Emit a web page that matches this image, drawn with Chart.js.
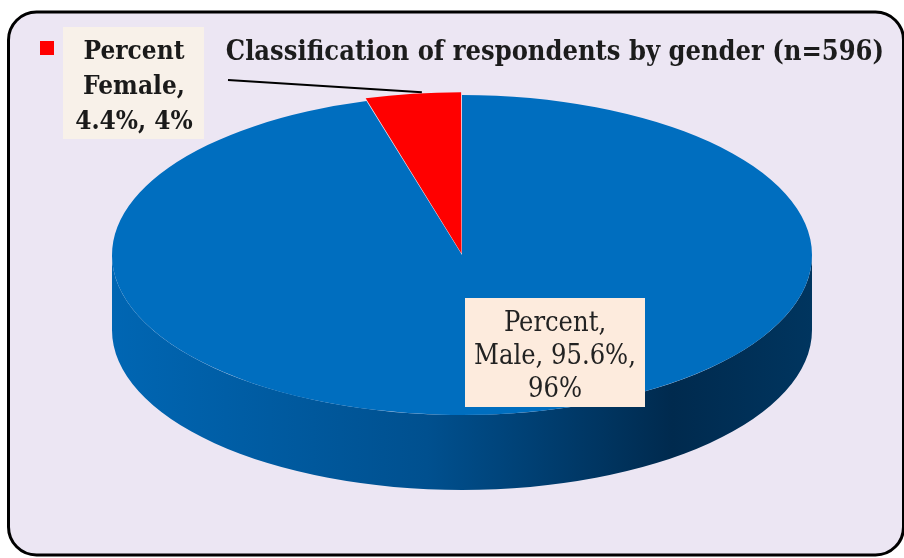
<!DOCTYPE html>
<html>
<head>
<meta charset="utf-8">
<script src="https://cdn.jsdelivr.net/npm/chart.js@4.4.1/dist/chart.umd.min.js"></script>
<style>
  html, body { margin: 0; padding: 0; background: #fff; }
</style>
</head>
<body>
<canvas id="genderChart" width="904" height="558"></canvas>
<script>
const seriesName = 'Percent';
const categories = ['Male', 'Female'];
const percentValues = [95.6, 4.4];
const sliceColors = ['#006EBF', '#FF0000'];
const chartTitle = 'Classification of respondents by gender (n=596)';

// where the flat pie gets squashed to, and how thick the 3d wall is
const pie3d = { cx: 462, cy: 255, rx: 350, ry: 160, depth: 75 };
const serif = "'DejaVu Serif Condensed', 'DejaVu Serif', serif";

function labelLines(i) {
    const v = percentValues[i];
    const pct = Math.round(v / percentValues.reduce((a, b) => a + b, 0) * 100);
    if (categories[i] === 'Female') {
        return [seriesName, categories[i] + ',', v + '%, ' + pct + '%'];
    }
    return [seriesName + ',', categories[i] + ', ' + v + '%,', pct + '%'];
}

function toScreen(chart, px, py) {
    const base = chart.getDatasetMeta(0).data[0];
    const k = base.outerRadius;
    return {
        x: pie3d.cx + (px - base.x) * pie3d.rx / k,
        y: pie3d.cy + (py - base.y) * pie3d.ry / k
    };
}

const framePlugin = {
    id: 'frame',
    beforeDraw(chart) {
        const ctx = chart.ctx;
        ctx.save();
        ctx.beginPath();
        ctx.roundRect(8.5, 12, 895, 543, 28);
        ctx.fillStyle = '#ECE6F3';
        ctx.fill();
        ctx.lineWidth = 3;
        ctx.strokeStyle = '#000';
        ctx.stroke();
        ctx.restore();
    }
};

const tiltPlugin = {
    id: 'tilt',
    beforeDatasetsDraw(chart) {
        const ctx = chart.ctx;
        const base = chart.getDatasetMeta(0).data[0];
        const { cx, cy, rx, ry, depth } = pie3d;

        // side wall of the disc
        ctx.save();
        ctx.beginPath();
        ctx.ellipse(cx, cy, rx, ry, 0, 0, Math.PI, false);
        ctx.lineTo(cx - rx, cy + depth);
        ctx.ellipse(cx, cy + depth, rx, ry, 0, Math.PI, 0, true);
        ctx.closePath();
        const g = ctx.createLinearGradient(cx - rx, 0, cx + rx, 0);
        g.addColorStop(0, '#0066B3');
        g.addColorStop(0.45, '#00508F');
        g.addColorStop(0.8, '#002A4E');
        g.addColorStop(1, '#00355F');
        ctx.fillStyle = g;
        ctx.fill();
        ctx.restore();

        ctx.save();
        ctx.translate(cx, cy);
        ctx.scale(rx / base.outerRadius, ry / base.outerRadius);
        ctx.translate(-base.x, -base.y);
    },
    afterDatasetsDraw(chart) {
        const ctx = chart.ctx;
        ctx.restore();

        const meta = chart.getDatasetMeta(0);
        const fi = categories.indexOf('Female');
        const mi = categories.indexOf('Male');

        // leader line to the female slice
        const arc = meta.data[fi];
        const mid = (arc.startAngle + arc.endAngle) / 2;
        const off = chart.data.datasets[0].offset[fi];
        const r = arc.outerRadius + off;
        const tip = toScreen(chart, arc.x + Math.cos(mid) * r, arc.y + Math.sin(mid) * r);
        ctx.save();
        ctx.beginPath();
        ctx.moveTo(228, 80);
        ctx.lineTo(tip.x + 10, tip.y + 2);
        ctx.lineWidth = 2;
        ctx.strokeStyle = '#000';
        ctx.stroke();

        // legend marker
        ctx.fillStyle = sliceColors[fi];
        ctx.fillRect(40, 41, 14, 14);

        // female label
        ctx.fillStyle = '#F8F1E9';
        ctx.fillRect(63, 27, 141, 112);
        ctx.fillStyle = '#1a1a1a';
        ctx.font = 'bold 26px ' + serif;
        ctx.textAlign = 'center';
        ctx.textBaseline = 'alphabetic';
        labelLines(fi).forEach((t, i) => ctx.fillText(t, 134, 59 + i * 35));

        // male label
        ctx.fillStyle = '#FDEBDD';
        ctx.fillRect(465, 298, 180, 109);
        ctx.fillStyle = '#222';
        ctx.font = '27px ' + serif;
        labelLines(mi).forEach((t, i) => ctx.fillText(t, 555, 331 + i * 33));
        ctx.restore();
    }
};

new Chart(document.getElementById('genderChart'), {
    type: 'pie',
    data: {
        labels: categories,
        datasets: [{
            label: seriesName,
            data: percentValues,
            backgroundColor: sliceColors,
            borderWidth: 0,
            offset: [0, 8],
            radius: 200,
            clip: false
        }]
    },
    options: {
        responsive: false,
        animation: false,
        rotation: 0,
        layout: { padding: { top: 0, right: 20, left: 0, bottom: 0 } },
        plugins: {
            legend: { display: false },
            tooltip: { enabled: false },
            title: {
                display: true,
                text: chartTitle,
                align: 'end',
                color: '#1c1c1c',
                font: { family: serif, size: 27, weight: 'bold' },
                padding: { top: 37, bottom: 0 }
            }
        }
    },
    plugins: [framePlugin, tiltPlugin]
});
</script>
</body>
</html>
